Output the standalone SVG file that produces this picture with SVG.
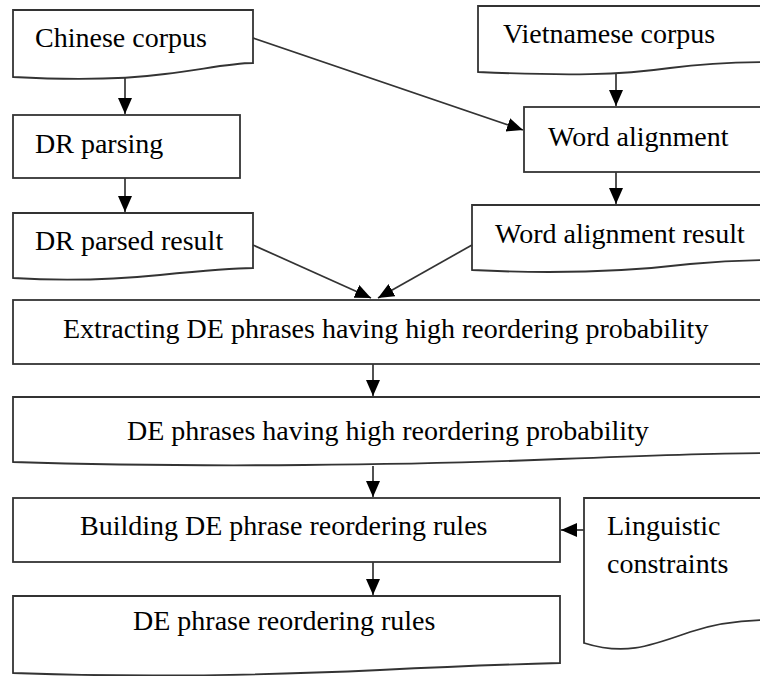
<svg xmlns="http://www.w3.org/2000/svg" width="760" height="676" viewBox="0 0 760 676">
<defs>
<marker id="ah" viewBox="0 0 16 14" refX="16" refY="7" markerWidth="16" markerHeight="14" markerUnits="userSpaceOnUse" orient="auto">
<path d="M0,0 L16,7 L0,14 Z" fill="#000"/>
</marker>
<style>
.box{fill:#fff;stroke:#333;stroke-width:1.8}
.t{font-family:"Liberation Serif","Times New Roman",serif;font-size:28px;fill:#000}
.c{stroke:#333;stroke-width:1.7;fill:none;marker-end:url(#ah)}
</style>
</defs>
<rect width="760" height="676" fill="#fff"/>
<g id="chinese-corpus">
<path class="box" d="M13,10 H253 V63 C230,63 200,70 165,74 C120,80 70,80 13,77 Z"/>
<text class="t" x="35" y="47">Chinese corpus</text>
</g>
<g id="vietnamese-corpus">
<path class="box" d="M478,6 H770 V62 C740,62 700,64 670,68 C620,75 570,76 478,72 Z"/>
<text class="t" x="503" y="43">Vietnamese corpus</text>
</g>
<g id="dr-parsing">
<rect class="box" x="13" y="115" width="227" height="63"/>
<text class="t" x="35" y="153">DR parsing</text>
</g>
<g id="word-alignment">
<rect class="box" x="524" y="107" width="246" height="65"/>
<text class="t" x="548" y="146">Word alignment</text>
</g>
<g id="dr-parsed-result">
<path class="box" d="M13,213 H253 V268 C230,268 200,271 160,275 C110,280 60,281 13,278 Z"/>
<text class="t" x="35" y="250">DR parsed result</text>
</g>
<g id="word-alignment-result">
<path class="box" d="M472,205 H770 V260 C740,260 720,261 690,264 C640,270 570,275 472,270 Z"/>
<text class="t" x="495" y="243">Word alignment result</text>
</g>
<g id="extracting">
<rect class="box" x="13" y="300" width="757" height="64"/>
<text class="t" x="63" y="338">Extracting DE phrases having high reordering probability</text>
</g>
<g id="de-phrases">
<path class="box" d="M13,397 H770 V453 C720,453 660,455 560,459 C420,465 200,468 13,462 Z"/>
<text class="t" x="127" y="440">DE phrases having high reordering probability</text>
</g>
<g id="building-rules">
<rect class="box" x="13" y="498" width="547" height="64"/>
<text class="t" x="80" y="535">Building DE phrase reordering rules</text>
</g>
<g id="linguistic-constraints">
<path class="box" d="M584,498 H770 V620 C745,620 720,622 690,632 C650,646 625,656 584,643 Z"/>
<text class="t" x="607" y="535">Linguistic</text>
<text class="t" x="607" y="573">constraints</text>
</g>
<g id="de-phrase-rules">
<path class="box" d="M13,596 H560 V663 C520,664 460,666 380,670 C250,676 120,677 13,673 Z"/>
<text class="t" x="133" y="630">DE phrase reordering rules</text>
</g>
<g id="connectors">
<line class="c" x1="125" y1="78" x2="125" y2="114"/>
<line class="c" x1="616" y1="74" x2="616" y2="106"/>
<line class="c" x1="125" y1="178" x2="125" y2="212"/>
<line class="c" x1="616" y1="172" x2="616" y2="204"/>
<line class="c" x1="253" y1="38" x2="523" y2="130"/>
<line class="c" x1="253" y1="245" x2="371" y2="298"/>
<line class="c" x1="472" y1="245" x2="378" y2="298"/>
<line class="c" x1="373" y1="364" x2="373" y2="396"/>
<line class="c" x1="373" y1="466" x2="373" y2="497"/>
<line class="c" x1="373" y1="562" x2="373" y2="595"/>
<line class="c" x1="584" y1="530" x2="561" y2="530"/>
</g>
</svg>
